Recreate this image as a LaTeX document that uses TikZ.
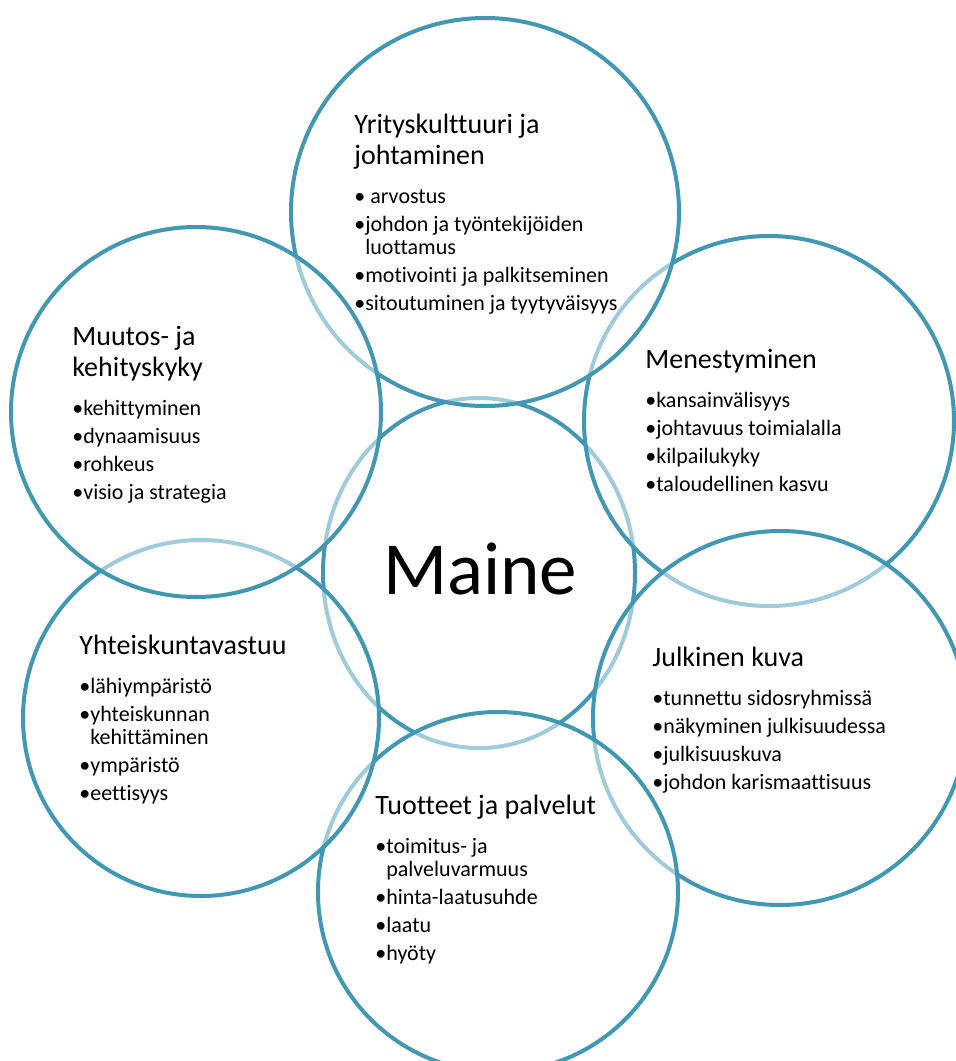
\documentclass[tikz,border=0pt]{standalone}
\usepackage{fontspec}
\setmainfont{Carlito}[Ligatures=NoCommon]
\usetikzlibrary{shapes.geometric}

\definecolor{ringblue}{RGB}{66,151,178}

\newlength{\bulwd}
\newcommand{\hd}[1]{{\fontsize{14}{15.5}\selectfont #1\par}\vspace{5.5pt}}
\newcommand{\itm}[1]{\par\hangindent=\bulwd\hangafter=1\textbullet#1}
\newcommand{\blk}[2]{\parbox[t]{230pt}{\raggedright\hd{#1}%
  \fontsize{11}{11.5}\selectfont\settowidth{\bulwd}{\textbullet}%
  \setlength{\parskip}{2.5pt}#2\par}}

\begin{document}
\begin{tikzpicture}
  [x=0.5pt,y=-0.5pt,
   ring/.style={circle,draw=ringblue,line width=2pt,fill=white,fill opacity=0.5,
                inner sep=0pt,outer sep=0pt},
   core/.style={ring,ellipse},
   block/.style={anchor=base west,inner sep=0pt,text=black}]

  \useasboundingbox (0,0) rectangle (955,1061);

  % Rings, back to front
  \node [core,minimum width=156pt,minimum height=175pt] (maine) at (479,573) {};
  \node [ring,minimum size=185pt] (menest) at (769,421) {};
  \node [ring,minimum size=187pt] (julk)   at (780,718) {};
  \node [ring,minimum size=180pt] (tuot)   at (498,892) {};
  \node [ring,minimum size=178pt] (yht)    at (201,718) {};
  \node [ring,minimum size=194pt] (yrit)   at (485,212) {};
  \node [ring,minimum size=185pt] (muut)   at (196,412) {};

  % Texts
  \node [anchor=base,inner sep=0pt] (maine-txt) at (480,594)
    {\fontsize{37.5}{40}\selectfont Maine};

  \node [block] (yrit-txt) at (354,133)
    {\blk{Yrityskulttuuri ja\newline johtaminen}{%
      \itm{\ arvostus}%
      \itm{johdon ja työntekijöiden\newline luottamus}%
      \itm{motivointi ja palkitseminen}%
      \itm{sitoutuminen ja tyytyväisyys}}};

  \node [block] (muut-txt) at (72,345)
    {\blk{Muutos- ja\newline kehityskyky}{%
      \itm{kehittyminen}%
      \itm{dynaamisuus}%
      \itm{rohkeus}%
      \itm{visio ja strategia}}};

  \node [block] (menest-txt) at (645,368)
    {\blk{Menestyminen}{%
      \itm{kansainvälisyys}%
      \itm{johtavuus toimialalla}%
      \itm{kilpailukyky}%
      \itm{taloudellinen kasvu}}};

  \node [block] (yht-txt) at (79,654)
    {\blk{Yhteiskuntavastuu}{%
      \itm{lähiympäristö}%
      \itm{yhteiskunnan\newline kehittäminen}%
      \itm{ympäristö}%
      \itm{eettisyys}}};

  \node [block] (julk-txt) at (652,666)
    {\blk{Julkinen kuva}{%
      \itm{tunnettu sidosryhmissä}%
      \itm{näkyminen julkisuudessa}%
      \itm{julkisuuskuva}%
      \itm{johdon karismaattisuus}}};

  \node [block] (tuot-txt) at (375,814)
    {\blk{Tuotteet ja palvelut}{%
      \itm{toimitus- ja\newline palveluvarmuus}%
      \itm{hinta-laatusuhde}%
      \itm{laatu}%
      \itm{hyöty}}};

\end{tikzpicture}
\end{document}
